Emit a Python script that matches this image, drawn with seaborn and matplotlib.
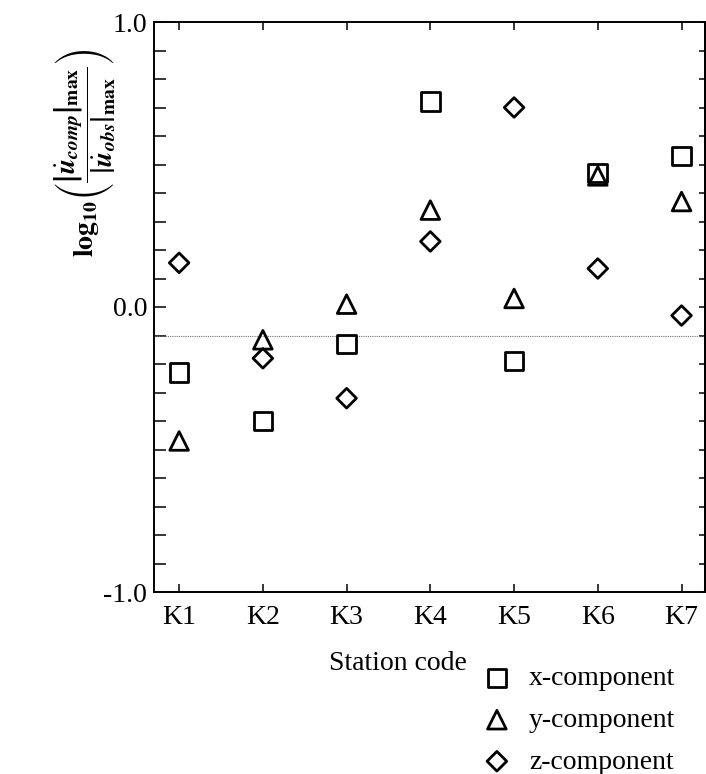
import matplotlib
matplotlib.use('Agg')
import matplotlib.pyplot as plt
import seaborn as sns
import numpy as np
from matplotlib.ticker import MultipleLocator

# values
stations = ['K1', 'K2', 'K3', 'K4', 'K5', 'K6', 'K7']
x_comp = [-0.23, -0.40, -0.13, 0.72, -0.19, 0.47, 0.53]
y_comp = [-0.47, -0.115, 0.01, 0.34, 0.03, 0.46, 0.37]
z_comp = [0.155, -0.18, -0.32, 0.23, 0.70, 0.135, -0.03]

sns.set_style('ticks')
plt.rcParams['font.family'] = ['Liberation Serif', 'DejaVu Serif']
plt.rcParams['mathtext.fontset'] = 'stix'
plt.rcParams['text.color'] = 'black'
plt.rcParams['axes.labelcolor'] = 'black'
plt.rcParams['xtick.color'] = 'black'
plt.rcParams['ytick.color'] = 'black'

fig = plt.figure(figsize=(7.06, 7.74), dpi=100)
ax = fig.add_axes([154 / 706, 1 - 592 / 774, 551 / 706, 570 / 774])

common = dict(facecolor='none', edgecolor='black', linewidth=2, ax=ax, zorder=3)
sns.scatterplot(x=stations, y=x_comp, marker='s', s=180, label='x-component', **common)
sns.scatterplot(x=stations, y=y_comp, marker='^', s=180, label='y-component', **common)
sns.scatterplot(x=stations, y=z_comp, marker='D', s=100, label='z-component', **common)

ax.axhline(-0.1, color='0.45', lw=0.8, ls=(0, (1, 1)), zorder=1)

ax.set_xlim(-0.3, 6.28)
ax.set_ylim(-1.0, 1.0)
ax.set_yticks([-1.0, 0.0, 1.0])
ax.set_yticklabels(['-1.0', '0.0', '1.0'])
ax.yaxis.set_minor_locator(MultipleLocator(0.1))

for sp in ax.spines.values():
    sp.set_linewidth(1.4)
    sp.set_color('black')

ax.tick_params(axis='y', which='both', direction='in', left=True, right=False,
               length=8.6, width=1.1, labelsize=20, pad=5)
ax.tick_params(axis='x', which='major', direction='in', top=True, bottom=True,
               length=5.8, width=1.1, labelsize=20, pad=9)

sec = ax.secondary_yaxis('right')
sec.set_yticks(np.round(np.arange(-1.0, 1.01, 0.1), 1))
sec.tick_params(direction='in', length=4.3, width=1.1, labelright=False, color='black')
sec.spines['right'].set_linewidth(1.4)
sec.spines['right'].set_color('black')

ax.set_xlabel('Station code', fontsize=20)
ax.xaxis.set_label_coords(0.443, -0.103)

ax.set_ylabel(r'$\mathbf{log}_{\mathbf{10}}\left(\dfrac{\left|\dot{\mathbfit{u}}_{\mathbfit{comp}}\right|_{\mathbf{max}}}'
              r'{\left|\dot{\mathbfit{u}}_{\mathbfit{obs}}\right|_{\mathbf{max}}}\right)$', fontsize=20)
ax.yaxis.set_label_coords(-0.065, 0.77)

ax.legend(loc='upper left', bbox_to_anchor=(483 / 706, 1 - 666 / 774),
          bbox_transform=fig.transFigure, frameon=False, fontsize=20,
          handlelength=1.0, handletextpad=0.65, labelspacing=0.58,
          borderpad=0, borderaxespad=0)

fig.savefig('out.png', dpi=100)
